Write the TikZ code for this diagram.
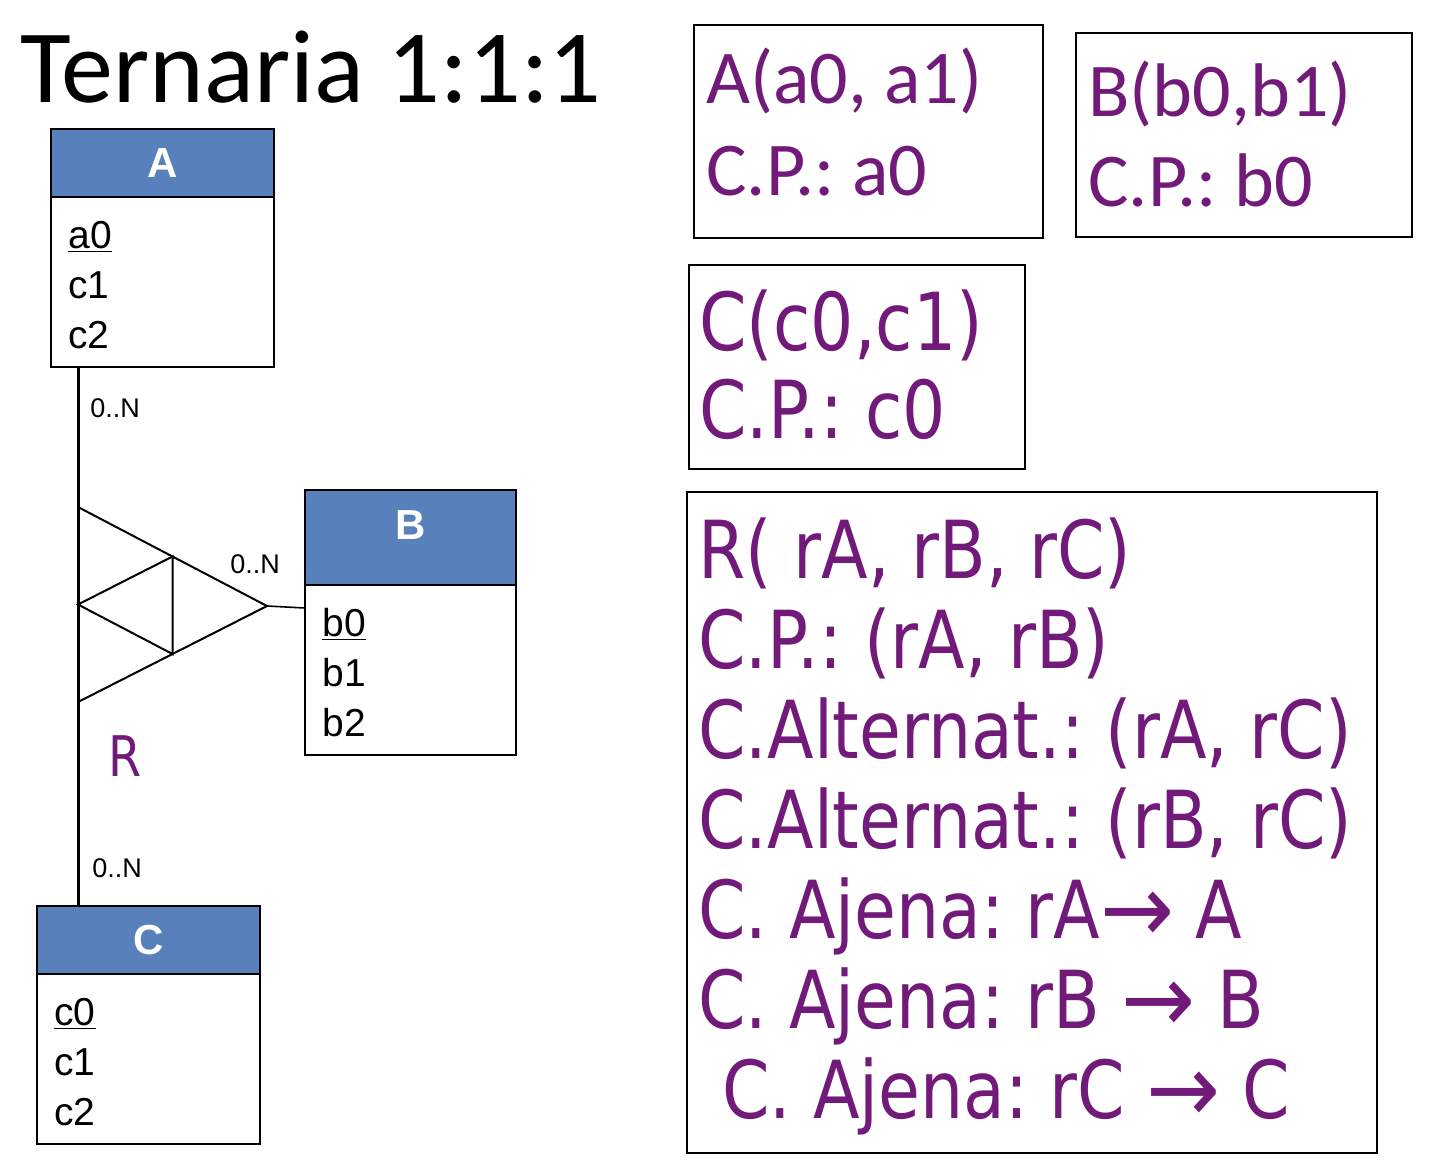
\documentclass[tikz,border=0pt]{standalone}
\usepackage{fontspec}
\setmainfont{Liberation Sans}
\newfontfamily\calfont{Carlito}
\newfontfamily\tahfont[FakeStretch=0.85]{DejaVu Sans}
\usepackage{graphicx}
\usepackage{tikz}
\usetikzlibrary{positioning, calc}
\definecolor{keypurple}{RGB}{114, 26, 121}
\definecolor{entblue}{RGB}{88, 129, 187}
\newcommand{\fkarrow}{\smash{\raisebox{-2pt}{\scalebox{1.3}[1.2]{→}}}}
\frenchspacing

\tikzset{
  enthead/.style={draw, line width=1pt, fill=entblue, text=white, outer sep=0pt, inner sep=0pt, font=\fontsize{21}{21}\selectfont\bfseries},
  entbody/.style={draw, line width=1pt, fill=white, outer sep=0pt, inner sep=0pt},
  attrs/.style={anchor=base west, inner sep=0pt, align=left, font=\fontsize{19.5}{25}\selectfont},
  card/.style={anchor=base west, inner sep=0pt, font=\fontsize{13.5}{13.5}\selectfont},
  keybox/.style={draw, line width=1pt, anchor=north west, outer sep=0pt, inner sep=0pt},
  keytext/.style={anchor=base west, inner sep=0pt, align=left, text=keypurple},
}

\begin{document}
\begin{tikzpicture}[x=0.5pt, y=-0.5pt]
  \fill[white] (0,0) rectangle (1440,1174);
  \useasboundingbox (0,0) rectangle (1440,1174);

  % Title
  \node[anchor=base west, inner sep=0pt, font=\calfont\fontsize{52}{52}\selectfont] (title) at (20,102) {Ternaria 1:1:1};

  % Entities (text nodes sit on the baseline of their last line)
  \node[enthead, anchor=north west, minimum width=111.5pt, minimum height=34pt] (headA) at (51,129) {A};
  \node[entbody, below=0pt of headA, minimum width=111.5pt, minimum height=85pt] (bodyA) {};
  \node[attrs] (attrA) at (68,348) {\underline{a0}\\c1\\c2};

  \node[enthead, anchor=north west, minimum width=105.5pt, minimum height=47.5pt, text height=15pt, text depth=13pt] (headB) at (305,490) {B};
  \node[entbody, below=0pt of headB, minimum width=105.5pt, minimum height=85pt] (bodyB) {};
  \node[attrs] (attrB) at (322,736) {\underline{b0}\\b1\\b2};

  \node[enthead, anchor=north west, minimum width=111.5pt, minimum height=34pt] (headC) at (37,906) {C};
  \node[entbody, below=0pt of headC, minimum width=111.5pt, minimum height=85pt] (bodyC) {};
  \node[attrs] (attrC) at (54,1125) {\underline{c0}\\c1\\c2};

  % Relationship R
  \coordinate (rtop) at (78,507);
  \coordinate (rbot) at (78,702);
  \coordinate (rtip) at (267,606);
  \draw[line width=1.5pt] ($(bodyA.south west)+(27,0)$) -- ($(headC.north west)+(41,0)$);
  \draw[line width=1pt] (rtop) -- (rtip) -- (rbot);
  \draw[line width=1pt] ($(rtop)!0.5!(rbot)$) -- ($(rtop)!0.5!(rtip)$) -- ($(rbot)!0.5!(rtip)$) -- cycle;
  \draw[line width=0.8pt] (rtip) -- ($(bodyB.north west)+(0,23)$);

  \node[card] (cardA) at (90,417) {0..N};
  \node[card] (cardB) at (230,573) {0..N};
  \node[card] (cardC) at (92,877) {0..N};
  \node[keytext, font=\tahfont\fontsize{28}{28}\selectfont] (relname) at (108,776) {R};

  % Relational schema
  \node[keybox, minimum width=174.5pt, minimum height=106.5pt] (boxA) at (694,25) {};
  \node[keytext, font=\calfont\fontsize{38}{46}\selectfont] (keysA) at (706,195) {A(a0, a1)\\C.P.: a0};

  \node[keybox, minimum width=168pt, minimum height=102pt] (boxB) at (1076,33) {};
  \node[keytext, font=\calfont\fontsize{38}{45}\selectfont] (keysB) at (1088,206) {B(b0,b1)\\C.P.: b0};

  \node[keybox, minimum width=168pt, minimum height=102pt] (boxC) at (689,265) {};
  \node[keytext, font=\tahfont\fontsize{40}{44}\selectfont] (keysC) at (699,438) {C(c0,c1)\\C.P.: c0};

  \node[keybox, minimum width=345pt, minimum height=330.5pt] (boxR) at (687,492) {};
  \node[keytext, font=\tahfont\fontsize{40}{45}\selectfont] (keysR) at (698,1118) {R( rA, rB, rC)\\C.P.: (rA, rB)\\C.Alternat.: (rA, rC)\\C.Alternat.: (rB, rC)\\C. Ajena: rA\fkarrow{} A\\C. Ajena: rB \fkarrow{} B\\\hspace*{12pt}C. Ajena: rC \fkarrow{} C};
\end{tikzpicture}
\end{document}
